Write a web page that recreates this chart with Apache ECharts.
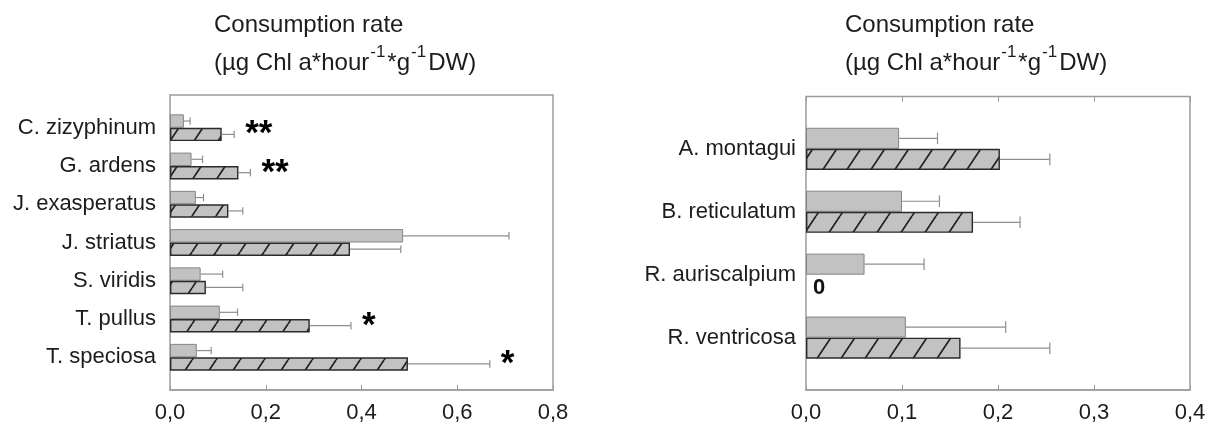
<!DOCTYPE html>
<html><head><meta charset="utf-8">
<script src="https://cdn.jsdelivr.net/npm/echarts@6/dist/echarts.min.js"></script>
<style>html,body{margin:0;padding:0;background:#fff}#c{width:1214px;height:435px}</style>
</head><body><div id="c"></div>
<script>
// ---------- data ----------
const categoriesL = ['C. zizyphinum','G. ardens','J. exasperatus','J. striatus','S. viridis','T. pullus','T. speciosa'];
const grayL      = [0.029, 0.045, 0.054, 0.487, 0.064, 0.104, 0.056];
const grayErrL   = [0.013, 0.023, 0.016, 0.221, 0.046, 0.037, 0.030];
const hatchL     = [0.108, 0.143, 0.122, 0.376, 0.075, 0.292, 0.497];
const hatchErrL  = [0.026, 0.025, 0.030, 0.106, 0.077, 0.086, 0.171];
const sigL       = ['**', '**', '', '', '', '*', '*'];
const ticksL     = {min: 0, max: 0.8, interval: 0.2};

const categoriesR = ['A. montagui','B. reticulatum','R. auriscalpium','R. ventricosa'];
const grayR      = [0.097, 0.100, 0.061, 0.104];
const grayErrR   = [0.040, 0.039, 0.062, 0.104];
const hatchR     = [0.202, 0.174, 0, 0.161];
const hatchErrR  = [0.052, 0.049, 0, 0.093];
const sigR       = ['', '', '', ''];
const ticksR     = {min: 0, max: 0.4, interval: 0.1};

const titleText = 'Consumption rate\n(µg Chl a*hour{s|-1}*g{s|-1}DW)';

// ---------- style ----------
const FONT = '"Liberation Sans", Arial, sans-serif';
const TXT = '#1c1c1c';
const GRAY = '#c2c2c2';
const FRAME = '#9c9c9c';
const ERR = '#8e8e8e';

function hatchPattern() {
  const c = document.createElement('canvas');
  c.width = 24; c.height = 36;
  const g = c.getContext('2d');
  g.fillStyle = GRAY; g.fillRect(0, 0, 24, 36);
  g.strokeStyle = '#202020'; g.lineWidth = 1.7;
  for (const k of [-1, 0, 1]) {
    g.beginPath(); g.moveTo(24 * k, 36); g.lineTo(24 * k + 24, 0); g.stroke();
  }
  return {image: c, repeat: 'repeat'};
}
const HATCH = hatchPattern();

const L = {left: 170, right: 553, top: 95, bottom: 390, pad: 13.6, frac: 0.35, labMargin: 14};
const R = {left: 806, right: 1190, top: 96.5, bottom: 390, pad: 20.9, frac: 0.335, labMargin: 10};

const fmt = v => v.toFixed(1).replace('.', ',');

function errSeries(gi, vals, errs, slot, frac) {
  return {
    type: 'custom', xAxisIndex: gi * 2, yAxisIndex: gi, silent: true, z: 3,
    data: vals.map((v, i) => [i, v, errs[i]]),
    encode: {x: 1, y: 0},
    renderItem(params, api) {
      const cat = api.value(0), v = api.value(1), e = api.value(2);
      if (!e) return null;
      const band = api.size([0, 1])[1];
      const bw = band * frac;
      const p0 = api.coord([v, cat]);
      const p1 = api.coord([v + e, cat]);
      const y = p0[1] + (slot === 0 ? -bw / 2 : bw / 2);
      const cap = bw * 0.55;
      const st = {stroke: ERR, lineWidth: 1.2};
      return {type: 'group', children: [
        {type: 'line', shape: {x1: p0[0], y1: y, x2: p1[0], y2: y}, style: st},
        {type: 'line', shape: {x1: p1[0], y1: y - cap / 2, x2: p1[0], y2: y + cap / 2}, style: st}
      ]};
    }
  };
}

function sigSeries(gi, vals, errs, sig) {
  return {
    type: 'custom', xAxisIndex: gi * 2, yAxisIndex: gi, silent: true, z: 4,
    data: vals.map((v, i) => [i, v + errs[i]]),
    encode: {x: 1, y: 0},
    renderItem(params, api) {
      const cat = api.value(0);
      const t = sig[cat];
      if (!t) return null;
      const p = api.coord([api.value(1), cat]);
      return {type: 'text', x: p[0] + 11, y: p[1] + 7, style: {
        text: t, fill: '#000', fontSize: 35, fontWeight: 'bold', fontFamily: FONT,
        align: 'left', verticalAlign: 'middle'}};
    }
  };
}

function barSeries(gi, vals, isHatch, frac) {
  return {
    type: 'bar', xAxisIndex: gi * 2, yAxisIndex: gi, barWidth: (frac * 100) + '%', barGap: '0%',
    silent: true, z: 2,
    itemStyle: isHatch
      ? {color: HATCH, borderColor: '#2a2a2a', borderWidth: 1.4}
      : {color: GRAY, borderColor: '#858585', borderWidth: 1},
    data: vals.map(v => (isHatch && v === 0)
      ? {value: 0, itemStyle: {borderWidth: 0, color: 'rgba(0,0,0,0)'},
         label: {show: true, formatter: '0', position: 'right', distance: 7,
          offset: [0, 3], fontSize: 22, fontWeight: 'bold', color: '#111', fontFamily: FONT}}
      : v)
  };
}

function xAxes(gi, P, t) {
  const base = {gridIndex: gi, type: 'value', min: t.min, max: t.max, interval: t.interval,
    splitLine: {show: false}};
  return [
    Object.assign({}, base, {position: 'bottom', offset: P.pad,
      axisLine: {show: true, lineStyle: {color: FRAME, width: 1.5}},
      axisTick: {show: true, inside: true, length: 5, lineStyle: {color: FRAME}},
      axisLabel: {formatter: fmt, fontSize: 22, color: TXT, fontFamily: FONT, margin: 12}}),
    Object.assign({}, base, {position: 'top', offset: P.pad,
      axisLine: {show: false},
      axisTick: {show: gi === 1, inside: true, length: 5, lineStyle: {color: FRAME}},
      axisLabel: {show: false}})
  ];
}

function yAxis(gi, cats, P) {
  return {gridIndex: gi, type: 'category', data: cats, inverse: true,
    axisLine: {show: false}, axisTick: {show: false},
    axisLabel: {fontSize: 22, color: TXT, fontFamily: FONT, margin: P.labMargin}};
}

function grid(P) {
  return {left: P.left, width: P.right - P.left, top: P.top + P.pad,
    height: (P.bottom - P.top) - 2 * P.pad, containLabel: false, outerBoundsMode: 'none'};
}

const titleStyle = {fontSize: 24, fontWeight: 'normal', color: TXT, fontFamily: FONT, lineHeight: 38,
  rich: {s: {fontSize: 17, lineHeight: 28, verticalAlign: 'top', color: TXT, fontFamily: FONT, padding: [0, 2, 0, 1]}}};

const chart = echarts.init(document.getElementById('c'), null, {renderer: 'canvas'});
chart.setOption({
  animation: false,
  backgroundColor: '#fff',
  title: [
    {text: titleText, left: 214, top: 6, padding: 0, textStyle: titleStyle},
    {text: titleText, left: 845, top: 6, padding: 0, textStyle: titleStyle}
  ],
  grid: [grid(L), grid(R)],
  xAxis: [...xAxes(0, L, ticksL), ...xAxes(1, R, ticksR)],
  yAxis: [yAxis(0, categoriesL, L), yAxis(1, categoriesR, R)],
  graphic: [
    {type: 'rect', z: 1, silent: true, shape: {x: L.left, y: L.top, width: L.right - L.left, height: L.bottom - L.top},
      style: {fill: null, stroke: FRAME, lineWidth: 1.5}},
    {type: 'rect', z: 1, silent: true, shape: {x: R.left, y: R.top, width: R.right - R.left, height: R.bottom - R.top},
      style: {fill: null, stroke: FRAME, lineWidth: 1.5}}
  ],
  series: [
    barSeries(0, grayL, false, L.frac), barSeries(0, hatchL, true, L.frac),
    errSeries(0, grayL, grayErrL, 0, L.frac), errSeries(0, hatchL, hatchErrL, 1, L.frac),
    sigSeries(0, hatchL, hatchErrL, sigL),
    barSeries(1, grayR, false, R.frac), barSeries(1, hatchR, true, R.frac),
    errSeries(1, grayR, grayErrR, 0, R.frac), errSeries(1, hatchR, hatchErrR, 1, R.frac),
    sigSeries(1, hatchR, hatchErrR, sigR)
  ]
});
</script></body></html>
